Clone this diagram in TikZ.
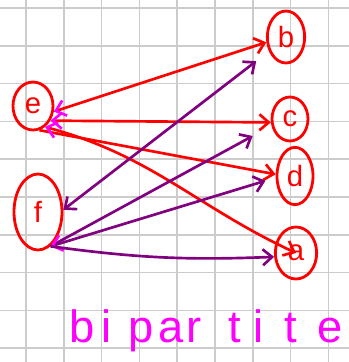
\documentclass[tikz,border=0pt]{standalone}
\usepackage{fontspec}
\setmainfont{Liberation Sans}
\usepackage{tikz}
\usetikzlibrary{arrows.meta,shapes.geometric}
\definecolor{ink}{HTML}{FF0000}
\definecolor{plum}{HTML}{800080}
\definecolor{pen}{HTML}{FF00FF}
\definecolor{paper}{HTML}{CCCCCC}
\tikzset{
  barb/.tip={Straight Barb[length=7pt,width=12pt]},
  backbarb/.tip={Straight Barb[length=7pt,width=12pt,color=pen]},
  gridline/.style={draw=paper, line width=1.3pt},
  vertex/.style={ellipse, draw=ink, line width=2.1pt, inner sep=0pt, text=ink,
                 font=\fontsize{22}{22}\selectfont},
  redge/.style={draw=ink, line width=2pt, -barb},
  pedge/.style={draw=plum, line width=2pt, -barb},
  scrawl/.style={text=pen, anchor=base, inner sep=0pt, font=\fontsize{34}{34}\selectfont}
}

\begin{document}
\begin{tikzpicture}[x=0.75pt, y=-0.75pt]
  \fill[white] (0,0) rectangle (349,362);
  \useasboundingbox (0,0) rectangle (349,362);
  \foreach \i in {0,...,8} \draw[gridline] (26+37.8*\i,0) -- (26+37.8*\i,362);
  \foreach \j in {0,...,9} \draw[gridline] (0,8+37.8*\j) -- (349,8+37.8*\j);

  \node[vertex, minimum width=30pt, minimum height=36pt] (e) at (33,106) {e};
  \node[vertex, minimum width=36pt, minimum height=57pt] (f) at (38,212) {f};
  \node[vertex, minimum width=28pt, minimum height=39pt] (b) at (286,37) {b};
  \node[vertex, minimum width=27pt, minimum height=33pt] (c) at (290,119) {c};
  \node[vertex, minimum width=27pt, minimum height=43pt] (d) at (295,176) {d};
  \node[vertex, minimum width=31pt, minimum height=39pt] (a) at (296,253) {a};

  \draw[redge, backbarb-barb] (e.-15) -- (b.195);
  \draw[redge, backbarb-barb] (e.-40) -- (c.190);
  \draw[redge] (e.-75) -- (d.175);
  \draw[redge, backbarb-barb] (e.-60) to[out=-15, in=155] (a.center);

  \draw[pedge, barb-barb, shorten >=12pt] (f.5) -- (b.220);
  \draw[pedge, shorten >=16pt] (f.-70) -- (c.200);
  \draw[pedge, backbarb-barb, shorten >=8pt] (f.-70) -- (d.185);
  \draw[pedge] (f.-70) to[bend right=5] (a.190);

  \foreach \ch/\px [count=\k] in {b/82,i/107,p/141,a/171,r/194,t/235,i/259,t/291,e/330}
    \node[scrawl] (word\k) at (\px,342) {\ch};
\end{tikzpicture}
\end{document}
